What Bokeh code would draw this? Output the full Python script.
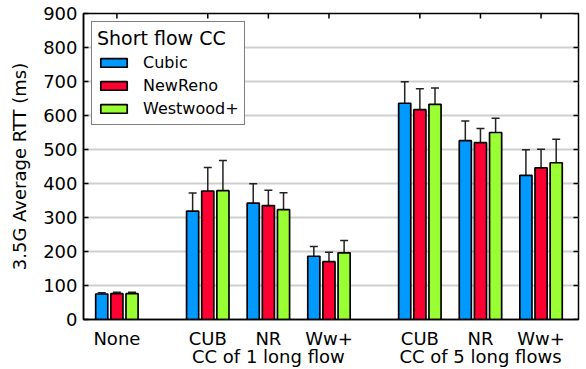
import math
from bokeh.plotting import figure
from bokeh.models import (ColumnDataSource, Whisker, TeeHead, FixedTicker,
                          LinearAxis, Range1d, Legend)
from bokeh.embed import file_html
from bokeh.resources import INLINE

# ---- data -------------------------------------------------------------
tick_labels = ["None", "CUB", "NR", "Ww+", "CUB", "NR", "Ww+"]
positions = [0, 1.5, 2.5, 3.5, 5, 6, 7]
group_labels = ["CC of 1 long flow", "CC of 5 long flows"]
group_positions = [2.5, 6]

series_names = ["Cubic", "NewReno", "Westwood+"]
cubic = [75, 319, 342, 186, 636, 526, 424]
cubic_err = [4, 53, 57, 29, 63, 58, 75]
newreno = [76, 378, 335, 170, 617, 520, 446]
newreno_err = [4, 69, 45, 28, 62, 42, 55]
westwood = [76, 379, 323, 196, 633, 550, 461]
westwood_err = [4, 89, 50, 36, 48, 42, 69]

y_ticks = [0, 100, 200, 300, 400, 500, 600, 700, 800, 900]
y_label = "3.5G Average RTT (ms)"
legend_title = "Short flow CC"

colors = ["#0099ff", "#ff0033", "#99ff33"]
offsets = [-0.25, 0.0, 0.25]
FONT = "DejaVu Sans"
X0, X1 = -0.551, 7.618
Y0, Y1 = 0, 900

# ---- figure -----------------------------------------------------------
p = figure(width=586, height=369, output_backend="svg", toolbar_location=None,
           x_range=Range1d(X0, X1), y_range=Range1d(Y0, Y1),
           min_border_left=83, min_border_right=8, min_border_top=13,
           min_border_bottom=0)
p.background_fill_color = "white"
p.border_fill_color = "white"
p.outline_line_color = "black"
p.outline_line_width = 1.5

p.xgrid.visible = False
p.ygrid.grid_line_color = "#cfcfcf"
p.ygrid.grid_line_width = 2
p.ygrid.ticker = FixedTicker(ticks=y_ticks)

# bottom x axis (category labels)
xa = p.xaxis[0]
xa.axis_label = None
xa.ticker = FixedTicker(ticks=positions)
xa.major_label_overrides = {float(k): v for k, v in zip(positions, tick_labels)}
xa.major_tick_in = 0
xa.major_tick_out = 0
xa.minor_tick_line_color = None
xa.axis_line_width = 1.5
xa.major_label_text_font = FONT
xa.major_label_text_font_size = "18px"
xa.major_label_text_color = "black"
xa.major_label_standoff = 8

# second row: group labels
ga = LinearAxis(ticker=FixedTicker(ticks=group_positions))
ga.axis_label = None
ga.major_label_overrides = {float(k): v for k, v in zip(group_positions, group_labels)}
ga.axis_line_color = None
ga.major_tick_line_color = None
ga.minor_tick_line_color = None
ga.major_label_text_font = FONT
ga.major_label_text_font_size = "18px"
ga.major_label_text_color = "black"
ga.major_label_standoff = -12
p.add_layout(ga, "below")

# left y axis
ya = p.yaxis[0]
ya.ticker = FixedTicker(ticks=y_ticks)
ya.major_tick_in = 5
ya.major_tick_out = 0
ya.major_tick_line_width = 1.5
ya.minor_tick_line_color = None
ya.axis_line_width = 1.5
ya.major_label_text_font = FONT
ya.major_label_text_font_size = "18px"
ya.major_label_text_color = "black"
ya.major_label_standoff = 6
ya.axis_label = y_label
ya.axis_label_text_font = FONT
ya.axis_label_text_font_size = "18px"
ya.axis_label_text_font_style = "normal"
ya.axis_label_text_color = "black"
ya.axis_label_standoff = 10

# ---- bars + error bars -----------------------------------------------
items = []
for name, vals, errs, col, off in zip(series_names,
                                      [cubic, newreno, westwood],
                                      [cubic_err, newreno_err, westwood_err],
                                      colors, offsets):
    src = ColumnDataSource(dict(
        x=[pp + off for pp in positions],
        top=vals,
        upper=[v + e for v, e in zip(vals, errs)],
        lower=[v - e for v, e in zip(vals, errs)],
    ))
    r = p.vbar(x="x", top="top", width=0.2, bottom=0, source=src,
               fill_color=col, line_color="black", line_width=1.7)
    items.append((name, [r]))
    w = Whisker(base="x", upper="upper", lower="lower", source=src,
                line_color="#222222", line_width=1.5,
                upper_head=TeeHead(size=8, line_color="#222222", line_width=1.5),
                lower_head=TeeHead(size=8, line_color="#222222", line_width=1.5))
    p.add_layout(w)

# inward ticks on the right and top frame edges (clipped to the frame)
p.scatter(x=[X1] * len(y_ticks), y=y_ticks, marker="dash", size=10,
          line_color="black", line_width=1.5)
p.scatter(x=positions, y=[Y1] * len(positions), marker="dash", size=10,
          angle=math.pi / 2, line_color="black", line_width=1.5)

legend = Legend(items=items, location="top_left")
legend.title = legend_title
legend.title_text_font = FONT
legend.title_text_font_size = "19px"
legend.title_text_font_style = "normal"
legend.title_text_color = "black"
legend.title_standoff = 3
legend.label_text_font = FONT
legend.label_text_font_size = "16px"
legend.label_text_color = "black"
legend.glyph_width = 33
legend.glyph_height = 11
legend.label_height = 21
legend.label_standoff = 13
legend.spacing = 2
legend.padding = 5
legend.margin = 8
legend.border_line_color = "black"
legend.border_line_width = 1.5
legend.background_fill_color = "white"
legend.background_fill_alpha = 1.0
p.add_layout(legend)

open("out.html", "w").write(file_html(p, INLINE))
